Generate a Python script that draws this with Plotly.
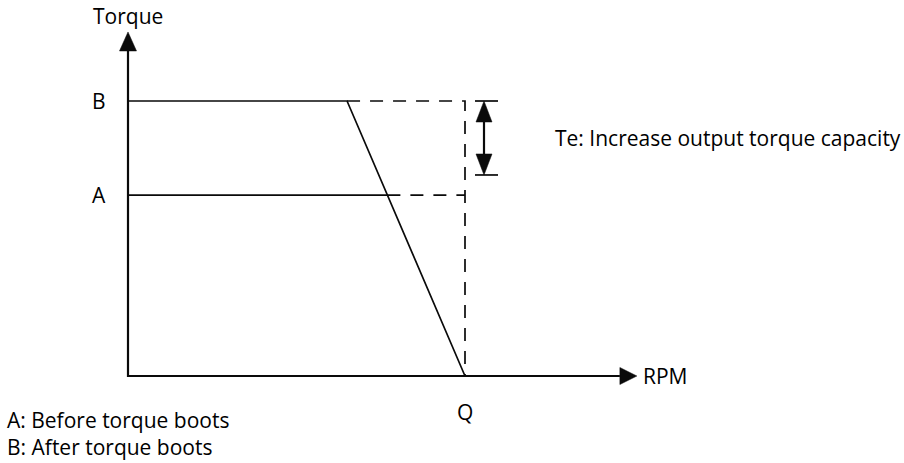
import plotly.graph_objects as go

# Normalised diagram units: rated torque B = 1, base speed Q = 1
torque_A = 0.658
torque_B = 1.0
rpm_knee_B = 0.65
rpm_Q = 1.0
te_top = 1.0
te_bottom = 0.731

y_title = "Torque"
x_title = "RPM"
q_label = "Q"
level_labels = ["A", "B"]
te_label = "Te: Increase output torque capacity"
notes = ["A: Before torque boots", "B: After torque boots"]

W, H = 904, 463
SX, SY = 337.0, 275.0          # pixels per unit on each axis
X0, Y0 = 128, 376              # origin position on the page
x_range = [-X0 / SX, (W - X0) / SX]
y_range = [-(H - Y0) / SY, Y0 / SY]

INK = "#0a0a0a"
FONT = "Open Sans"

# where the falling B limit crosses torque level A
rpm_knee_A = rpm_knee_B + (torque_B - torque_A) / torque_B * (rpm_Q - rpm_knee_B)

fig = go.Figure()


def line(xs, ys, width=1.7, dash="solid", color=INK):
    fig.add_trace(go.Scatter(x=xs, y=ys, mode="lines",
                             line=dict(color=color, width=width, dash=dash),
                             hoverinfo="skip"))


def tri(xs, ys):
    fig.add_trace(go.Scatter(x=xs + [xs[0]], y=ys + [ys[0]], mode="lines",
                             fill="toself", fillcolor=INK,
                             line=dict(color=INK, width=0.5), hoverinfo="skip"))


# axes with arrowheads
y_tip = 1.251
y_base = y_tip - 19 / SY
x_tip = 1.510
x_base = x_tip - 17 / SX
line([0, 0, x_base], [y_base, 0, 0], width=2.2)
tri([-8.5 / SX, 8.5 / SX, 0], [y_base, y_base, y_tip])
tri([x_base, x_base, x_tip], [8.5 / SY, -8.5 / SY, 0])

# torque limits
line([0, rpm_knee_B, rpm_Q], [torque_B, torque_B, 0])
line([0, rpm_knee_A], [torque_A, torque_A])

# projections to Q
dash = "13px,10px"
line([rpm_knee_B, rpm_Q, rpm_Q], [torque_B, torque_B, 0], dash=dash)
line([rpm_knee_A, rpm_Q], [torque_A, torque_A], dash=dash)

# Te double arrow
te_x = rpm_Q + 19 / SX
tick_l, tick_r = rpm_Q + 10 / SX, rpm_Q + 33 / SX
line([tick_l, tick_r], [te_top, te_top])
line([tick_l, tick_r], [te_bottom, te_bottom])
head = 21 / SY
hw = 8 / SX
line([te_x, te_x], [te_top - head, te_bottom + head], width=2.2)
tri([te_x - hw, te_x + hw, te_x], [te_top - head, te_top - head, te_top])
tri([te_x - hw, te_x + hw, te_x], [te_bottom + head, te_bottom + head, te_bottom])

font = dict(family=FONT, size=21, color="#000000")
ann = []
ann.append(dict(x=0, y=y_tip, text=y_title, showarrow=False, xanchor="center",
                yanchor="bottom", yshift=0, font=font))
for name, lvl in zip(level_labels, [torque_A, torque_B]):
    ann.append(dict(x=0, y=lvl, text=name, showarrow=False, xanchor="right",
                    yanchor="middle", xshift=-20, font=font))
ann.append(dict(x=rpm_Q, y=0, text=q_label, showarrow=False, xanchor="center",
                yanchor="top", yshift=-20, font=font))
ann.append(dict(x=x_tip, y=0, text=x_title, showarrow=False, xanchor="left",
                yanchor="middle", xshift=4, font=font))
ann.append(dict(x=rpm_Q + 88 / SX, y=(te_top + te_bottom) / 2, text=te_label,
                showarrow=False, xanchor="left", yanchor="middle", font=font))
# key below the chart, two lines in one block
ann.append(dict(x=5 / W, y=1 - 433 / H, xref="paper", yref="paper",
                text="<br>".join(notes), showarrow=False, xanchor="left",
                yanchor="middle", align="left", font=font))

fig.update_layout(
    width=W, height=H, margin=dict(l=0, r=0, t=0, b=0),
    paper_bgcolor="white", plot_bgcolor="white", showlegend=False,
    xaxis=dict(range=x_range, visible=False, fixedrange=True),
    yaxis=dict(range=y_range, visible=False, fixedrange=True),
    annotations=ann, hovermode=False,
)

fig.write_html("out.html", config={"displayModeBar": False})
